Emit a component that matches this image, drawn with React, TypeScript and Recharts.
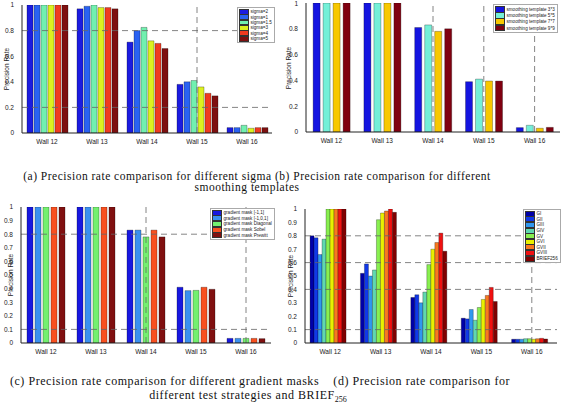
import { Bar, BarChart, Legend, ReferenceLine, XAxis, YAxis } from "recharts";

const walls = ["Wall 12", "Wall 13", "Wall 14", "Wall 15", "Wall 16"];

// (a) different sigma
const sigmaNames = ["sigma=2", "sigma=1", "sigma=1.5", "sigma=3", "sigma=4", "sigma=5"];
const sigmaValues = [
  [1, 0.97, 0.71, 0.38, 0.042],
  [1, 0.99, 0.8, 0.4, 0.042],
  [1, 1.0, 0.825, 0.41, 0.06],
  [1, 0.98, 0.72, 0.36, 0.037],
  [1, 0.98, 0.7, 0.31, 0.042],
  [1, 0.97, 0.66, 0.29, 0.042],
];
const sigmaColors = ["#1c1ce0", "#2a62f2", "#72f0b0", "#dcf020", "#f03a20", "#7e1010"];

// (b) smoothing templates
const templateNames = ["smoothing template 3*3", "smoothing template 5*5", "smoothing template 7*7", "smoothing template 9*9"];
const templateValues = [
  [1, 1, 0.81, 0.39, 0.034],
  [1, 1, 0.83, 0.41, 0.052],
  [1, 1, 0.78, 0.395, 0.029],
  [1, 1, 0.8, 0.395, 0.036],
];
const templateColors = ["#1414e0", "#74f0d8", "#f8c800", "#800010"];

// (c) gradient masks
const maskNames = ["gradient mask [-1,1]", "gradient mask [-1,0,1]", "gradient mask Diagonal", "gradient mask Sobel", "gradient mask Prewitt"];
const maskValues = [
  [1, 1, 0.83, 0.41, 0.034],
  [1, 1, 0.83, 0.385, 0.034],
  [1, 1, 0.78, 0.387, 0.034],
  [1, 1, 0.83, 0.41, 0.034],
  [1, 1, 0.78, 0.395, 0.032],
];
const maskColors = ["#1818e0", "#3a90f0", "#74f070", "#f85020", "#801010"];

// (d) test strategies
const strategyNames = ["GI", "GII", "GIII", "GIV", "GV", "GVI", "GVII", "GVIII", "BRIEF256"];
const strategyValues = [
  [0.8, 0.52, 0.34, 0.185, 0.028],
  [0.785, 0.59, 0.36, 0.18, 0.028],
  [0.66, 0.5, 0.3, 0.25, 0.028],
  [0.775, 0.545, 0.38, 0.17, 0.032],
  [1, 0.92, 0.585, 0.265, 0.032],
  [1, 0.97, 0.7, 0.325, 0.028],
  [1, 0.985, 0.75, 0.355, 0.032],
  [1, 1, 0.82, 0.415, 0.035],
  [1, 0.975, 0.685, 0.31, 0.03],
];
const strategyColors = ["#0000a8", "#1038e8", "#3098f0", "#60d8b0", "#88f050", "#e8f000", "#f87820", "#f01010", "#800000"];

const ticksFifth = [0, 0.2, 0.4, 0.6, 0.8, 1];
const ticksTenth = [0, 0.1, 0.2, 0.3, 0.4, 0.5, 0.6, 0.7, 0.8, 0.9, 1];

const font = "'Liberation Sans', Arial, sans-serif";

type PanelProps = {
  left: number;
  top: number;
  width: number;
  height: number;
  margin: { top: number; right: number; bottom: number; left: number };
  yWidth: number;
  names: string[];
  values: number[][];
  colors: string[];
  ticks: number[];
  catGap: string;
  barGap: number;
  hLines: number[];
  vLines: string[];
  legendPos: { left: number; top: number };
  legendRow: number;
  labelX: number;
};

function Panel(p: PanelProps) {
  const rows = walls.map((w, i) => {
    const r: Record<string, string | number> = { wall: w };
    p.names.forEach((_, k) => (r["s" + k] = p.values[k][i]));
    return r;
  });
  const plotTop = p.top + p.margin.top;
  const plotBottom = p.top + p.height - p.margin.bottom - 12;
  return (
    <>
      <div
        style={{
          position: "absolute",
          left: p.left + p.labelX,
          top: (plotTop + plotBottom) / 2,
          transform: "translate(-50%, -50%) rotate(-90deg)",
          fontFamily: font,
          fontSize: 6.5,
          color: "#222",
          whiteSpace: "nowrap",
        }}
      >
        Precision Rate
      </div>
      <div style={{ position: "absolute", left: p.left, top: p.top }}>
        <BarChart
          width={p.width}
          height={p.height}
          data={rows}
          margin={p.margin}
          barCategoryGap={p.catGap}
          barGap={p.barGap}
        >
          <XAxis
            dataKey="wall"
            height={12}
            tickLine={false}
            axisLine={{ stroke: "#222" }}
            tick={{ fontSize: 6.5, fill: "#222", fontFamily: font }}
            tickMargin={0}
            interval={0}
          />
          <XAxis xAxisId="top" dataKey="wall" orientation="top" height={0} tick={false} tickLine={false} axisLine={{ stroke: "#222" }} />
          <YAxis
            domain={[0, 1]}
            ticks={p.ticks}
            width={p.yWidth}
            tickLine={false}
            axisLine={{ stroke: "#222" }}
            tick={{ fontSize: 6.5, fill: "#222", fontFamily: font }}
            tickMargin={2}
            allowDataOverflow
          />
          <YAxis yAxisId="right" orientation="right" domain={[0, 1]} width={0} tick={false} tickLine={false} axisLine={{ stroke: "#222" }} />
          {p.hLines.map((v) => (
            <ReferenceLine key={"h" + v} y={v} stroke="#666" strokeDasharray="6 4" strokeWidth={0.8} />
          ))}
          {p.vLines.map((v) => (
            <ReferenceLine key={"v" + v} x={v} stroke="#666" strokeDasharray="6 4" strokeWidth={0.8} />
          ))}
          <Legend
            layout="vertical"
            align="center"
            verticalAlign="middle"
            wrapperStyle={{ left: p.legendPos.left, top: p.legendPos.top, width: "auto" }}
            content={() => (
              <div
                style={{
                  background: "#fff",
                  border: "0.5px solid #aaa",
                  padding: "1px 2px 1px 1px",
                  fontFamily: font,
                  fontSize: 4.6,
                  color: "#222",
                }}
              >
                {p.names.map((n, i) => (
                  <div key={n} style={{ display: "flex", alignItems: "center", height: p.legendRow, whiteSpace: "nowrap" }}>
                    <span style={{ display: "inline-block", width: 8, height: p.legendRow - 1.5, background: p.colors[i], border: "0.5px solid #333", marginRight: 1.5, flex: "none" }} />
                    {n}
                  </div>
                ))}
              </div>
            )}
          />
          {p.names.map((n, k) => (
            <Bar
              key={n}
              dataKey={"s" + k}
              name={n}
              fill={p.colors[k]}
              stroke="rgba(0,0,0,0.55)"
              strokeWidth={0.5}
              isAnimationActive={false}
            />
          ))}
        </BarChart>
      </div>
    </>
  );
}

const captionStyle = {
  position: "absolute" as const,
  left: 0,
  width: 562,
  textAlign: "center" as const,
  fontFamily: "'Liberation Serif', 'Times New Roman', serif",
  fontSize: 11.5,
  letterSpacing: 0.5,
  lineHeight: "11px",
  color: "#111",
  whiteSpace: "nowrap" as const,
};

export default function App() {
  return (
    <div style={{ position: "absolute", left: 0, top: 0, width: 562, height: 410, background: "#fff", overflow: "hidden" }}>
      <Panel
        left={0}
        top={0}
        width={280}
        height={145}
        margin={{ top: 5, right: 8, bottom: 0, left: 8 }}
        yWidth={14}
        names={sigmaNames}
        values={sigmaValues}
        colors={sigmaColors}
        ticks={ticksFifth}
        catGap="10%"
        barGap={1}
        hLines={[0.8, 0.2]}
        vLines={["Wall 15"]}
        legendPos={{ left: 237, top: 7 }}
        legendRow={5.4}
        labelX={6}
      />
      <Panel
        left={280}
        top={0}
        width={282}
        height={145}
        margin={{ top: 3, right: 2, bottom: 1, left: 12 }}
        yWidth={14}
        names={templateNames}
        values={templateValues}
        colors={templateColors}
        ticks={ticksFifth}
        catGap="14%"
        barGap={3}
        hLines={[]}
        vLines={["Wall 14", "Wall 15", "Wall 16"]}
        legendPos={{ left: 213, top: 4 }}
        legendRow={6.3}
        labelX={8}
      />
      <Panel
        left={0}
        top={195}
        width={280}
        height={160}
        margin={{ top: 12, right: 9, bottom: 0, left: 5 }}
        yWidth={16}
        names={maskNames}
        values={maskValues}
        colors={maskColors}
        ticks={ticksTenth}
        catGap="12%"
        barGap={2}
        hLines={[0.8, 0.1]}
        vLines={["Wall 14", "Wall 16"]}
        legendPos={{ left: 210, top: 13 }}
        legendRow={5.6}
        labelX={10}
      />
      <Panel
        left={280}
        top={195}
        width={282}
        height={160}
        margin={{ top: 14, right: 5, bottom: 0, left: 8 }}
        yWidth={17}
        names={strategyNames}
        values={strategyValues}
        colors={strategyColors}
        ticks={ticksTenth}
        catGap="10%"
        barGap={0}
        hLines={[0.8, 0.6, 0.4, 0.1]}
        vLines={["Wall 16"]}
        legendPos={{ left: 243, top: 14 }}
        legendRow={5.6}
        labelX={10}
      />
      <div style={{ ...captionStyle, top: 170.5, left: -24 }}>
        (a) Precision rate comparison for different sigma (b) Precision rate comparison for different
      </div>
      <div style={{ ...captionStyle, top: 181.5, left: -34 }}>smoothing templates</div>
      <div style={{ ...captionStyle, fontSize: 12, letterSpacing: 0.55, lineHeight: "12px", top: 375, left: -21 }}>
        (c) Precision rate comparison for different gradient masks&nbsp;&nbsp;&nbsp;&nbsp;(d) Precision rate comparison for
      </div>
      <div style={{ ...captionStyle, fontSize: 12, letterSpacing: 0.55, lineHeight: "12px", top: 389, left: -33 }}>
        different test strategies and BRIEF<sub style={{ fontSize: 8, lineHeight: 0, letterSpacing: 0 }}>256</sub>
      </div>
    </div>
  );
}
